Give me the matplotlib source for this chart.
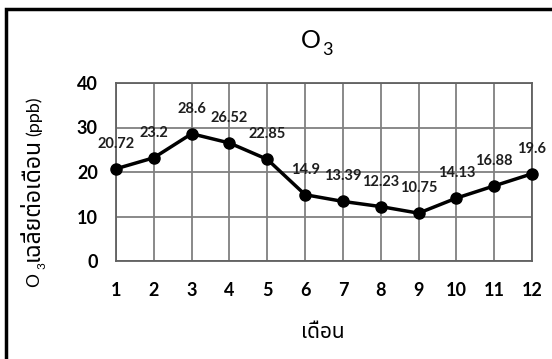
import numpy as np
import matplotlib
matplotlib.use("Agg")
import matplotlib.pyplot as plt
from matplotlib.patches import Rectangle

plt.rcParams['font.family'] = ['Lato', 'Noto Sans Thai', 'DejaVu Sans']
THAI = ['Noto Sans Thai', 'DejaVu Sans']

# Monthly mean O3 (ppb)
months = np.arange(1, 13)
o3 = [20.72, 23.2, 28.6, 26.52, 22.85, 14.9, 13.39, 12.23, 10.75, 14.13, 16.88, 19.6]
labels = ["20.72", "23.2", "28.6", "26.52", "22.85", "14.9", "13.39", "12.23",
          "10.75", "14.13", "16.88", "19.6"]
yticks = [0, 10, 20, 30, 40]

W, H = 552, 359
fig = plt.figure(figsize=(W / 100, H / 100), dpi=100)
ax = fig.add_axes([116 / W, 1 - 261 / H, (532 - 116) / W, (261 - 83) / H])

ax.plot(months, o3, color='black', lw=2.5, marker='o', ms=8, zorder=3, clip_on=False)
for m, v, s in zip(months, o3, labels):
    ax.annotate(s, (m, v), xytext=(0, 18), textcoords='offset points',
                ha='center', va='center', fontsize=10.5, fontweight='bold',
                color='#1e1e1e')

ax.set_xlim(1, 12)
ax.set_ylim(0, 40)
ax.set_xticks(months)
ax.set_yticks(yticks)
ax.grid(True, color='#808080', lw=1.3)
ax.set_axisbelow(True)
for sp in ax.spines.values():
    sp.set_color('#606060')
    sp.set_linewidth(1.3)
ax.tick_params(length=0, labelsize=13)
ax.tick_params(axis='x', pad=15)
ax.tick_params(axis='y', pad=13)
for t in ax.get_xticklabels() + ax.get_yticklabels():
    t.set_fontweight('bold')

# title O3 with subscript, drawn as two pieces
fig.text(321 / W, 1 - 41 / H, "O", ha='right', va='center', fontsize=18)
fig.text(322 / W, 1 - 50 / H, "3", ha='left', va='center', fontsize=13)
fig.text(323 / W, 1 - 333 / H, "เดือน", ha='center', va='center', fontsize=15,
         family=THAI)

# y label: O3 subscript, Thai text, then unit, reading bottom to top
fig.text(34 / W, 1 - 280 / H, "O", ha='center', va='center', rotation=90, fontsize=12.5)
fig.text(42 / W, 1 - 266 / H, "3", ha='center', va='center', rotation=90, fontsize=8.5)
fig.text(33 / W, 1 - 261 / H, "เฉลี่ยต่อเดือน", ha='center', va='bottom',
         rotation=90, fontsize=16.5, family=THAI)
fig.text(34 / W, 1 - 97 / H, "(ppb)", ha='center', va='top', rotation=90, fontsize=13)

# outer chart frame
fig.add_artist(Rectangle((6 / W, -0.05), 1.2, 1 - 9 / H + 0.05, transform=fig.transFigure,
                         fill=False, ec='black', lw=2.5))

fig.savefig("out.png", dpi=100)
